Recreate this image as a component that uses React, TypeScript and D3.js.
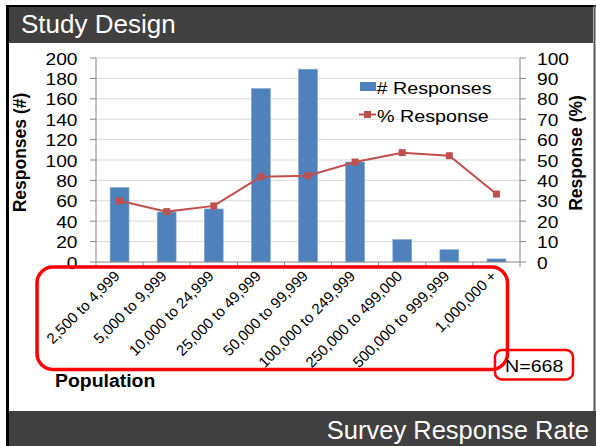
import React from "react";
import * as d3 from "d3";

const categories = [
  "2,500 to 4,999",
  "5,000 to 9,999",
  "10,000 to 24,999",
  "25,000 to 49,999",
  "50,000 to 99,999",
  "100,000 to 249,999",
  "250,000 to 499,000",
  "500,000 to 999,999",
  "1,000,000 +",
];
const responses = [73, 49, 52, 170, 189, 98, 22, 12, 3];
const pctResponse = [30, 24.7, 27.5, 41.8, 42.3, 49, 53.6, 52.1, 33.3];
const leftTicks = [0, 20, 40, 60, 80, 100, 120, 140, 160, 180, 200];
const rightTicks = [0, 10, 20, 30, 40, 50, 60, 70, 80, 90, 100];

const W = 596;
const H = 446;
const FONT = "'Liberation Sans', Arial, Helvetica, sans-serif";
const BLUE = "#4F81BD";
const RED = "#C0504D";

function SText(props: {
  x: number;
  y: number;
  sx?: number;
  size: number;
  anchor?: string;
  weight?: string;
  fill?: string;
  children: React.ReactNode;
}) {
  const { x, y, sx = 1, size, anchor = "start", weight = "normal", fill = "#000", children } = props;
  return (
    <text
      transform={`translate(${x},${y}) scale(${sx},1)`}
      fontSize={size}
      fontFamily={FONT}
      fontWeight={weight}
      textAnchor={anchor}
      fill={fill}
    >
      {children}
    </text>
  );
}

export default function App() {
  const x = d3.scaleBand<string>().domain(categories).range([96, 520]).padding(0);
  const yL = d3.scaleLinear().domain([0, 200]).range([262, 58]);
  const yR = d3.scaleLinear().domain([0, 100]).range([262, 58]);
  const bw = x.bandwidth() * 0.4;
  const cx = (c: string) => (x(c) as number) + x.bandwidth() / 2;

  const line = d3
    .line<number>()
    .x((_, i) => cx(categories[i]))
    .y((d) => yR(d));

  const boundaries = categories.map((c) => x(c) as number).concat([520]);

  return (
    <div style={{ position: "absolute", left: 0, top: 0 }}>
      <svg width={W} height={H} style={{ display: "block" }}>
        <rect x={0} y={0} width={W} height={H} fill="#fff" />
        {/* top bar */}
        <rect x={6} y={5} width={W - 6} height={2} fill="#000" />
        <rect x={9} y={7} width={584} height={36} fill="#404040" />
        <SText x={21} y={33} size={26} fill="#fff">Study Design</SText>
        {/* borders */}
        <rect x={6} y={5} width={3} height={H - 5} fill="#000" />
        <rect x={593.5} y={5} width={2} height={H - 5} fill="#555" />
        {/* bottom bar */}
        <rect x={9} y={411} width={W - 9} height={H - 411} fill="#404040" />
        <SText x={589} y={439} size={25.5} anchor="end" fill="#fff">Survey Response Rate</SText>

        {/* gridlines */}
        {leftTicks.filter((t) => t > 0).map((t) => (
          <line key={"g" + t} x1={96} x2={520} y1={yL(t)} y2={yL(t)} stroke="#d9d9d9" strokeWidth={1} />
        ))}

        {/* bars */}
        {categories.map((c, i) => (
          <rect
            key={"b" + i}
            x={cx(c) - bw / 2}
            y={yL(responses[i])}
            width={bw}
            height={yL(0) - yL(responses[i])}
            fill={BLUE}
            stroke="#7fa3d1"
            strokeWidth={0.6}
          />
        ))}

        {/* axes */}
        <line x1={96} x2={96} y1={58} y2={262} stroke="#868686" />
        <line x1={520} x2={520} y1={58} y2={262} stroke="#868686" />
        <line x1={96} x2={520} y1={262} y2={262} stroke="#868686" />
        {leftTicks.map((t) => (
          <g key={"lt" + t}>
            <line x1={90} x2={96} y1={yL(t)} y2={yL(t)} stroke="#868686" />
            <SText x={77.5} y={yL(t) + 6.5} size={17} sx={1.13} anchor="end">{t}</SText>
          </g>
        ))}
        {rightTicks.map((t) => (
          <g key={"rt" + t}>
            <line x1={520} x2={526} y1={yR(t)} y2={yR(t)} stroke="#868686" />
            <SText x={537} y={yR(t) + 6.5} size={17} sx={1.13}>{t}</SText>
          </g>
        ))}
        {boundaries.map((b, i) => (
          <line key={"ct" + i} x1={b} x2={b} y1={262} y2={267} stroke="#868686" />
        ))}

        {/* line series */}
        <path d={line(pctResponse) as string} fill="none" stroke={RED} strokeWidth={2} />
        {pctResponse.map((v, i) => (
          <rect key={"m" + i} x={cx(categories[i]) - 3.5} y={yR(v) - 3.5} width={7} height={7} fill={RED} />
        ))}

        {/* category labels */}
        {categories.map((c) => (
          <text
            key={"cl" + c}
            transform={`translate(${cx(c) + 1},${277}) rotate(-45)`}
            fontSize={15}
            fontFamily={FONT}
            textAnchor="end"
            fill="#000"
          >
            {c}
          </text>
        ))}

        {/* axis titles */}
        <text
          transform="translate(26,152.5) rotate(-90)"
          fontSize={17.5}
          fontWeight="bold"
          fontFamily={FONT}
          textAnchor="middle"
        >
          Responses (#)
        </text>
        <text
          transform="translate(582,153) rotate(-90)"
          fontSize={17.5}
          fontWeight="bold"
          fontFamily={FONT}
          textAnchor="middle"
        >
          Response (%)
        </text>
        <SText x={55} y={387} size={18.5} sx={1.05} weight="bold">Population</SText>

        {/* legend */}
        <rect x={360} y={82} width={16} height={9} fill={BLUE} />
        <SText x={376.5} y={94} size={17} sx={1.16}># Responses</SText>
        <line x1={359} x2={376} y1={114.5} y2={114.5} stroke={RED} strokeWidth={2} />
        <rect x={364} y={111} width={7} height={7} fill={RED} />
        <SText x={377} y={121.5} size={17} sx={1.16}>% Response</SText>

        {/* red annotation boxes */}
        <rect x={37} y={267} width={470.5} height={102.5} rx={16} ry={16} fill="none" stroke="#ff0000" strokeWidth={3.5} />
        <rect x={495} y={350} width={78} height={29.5} rx={7} ry={7} fill="none" stroke="#ff0000" strokeWidth={2.5} />
        <SText x={505} y={372} size={16.5} sx={1.19}>N=668</SText>
      </svg>
    </div>
  );
}
